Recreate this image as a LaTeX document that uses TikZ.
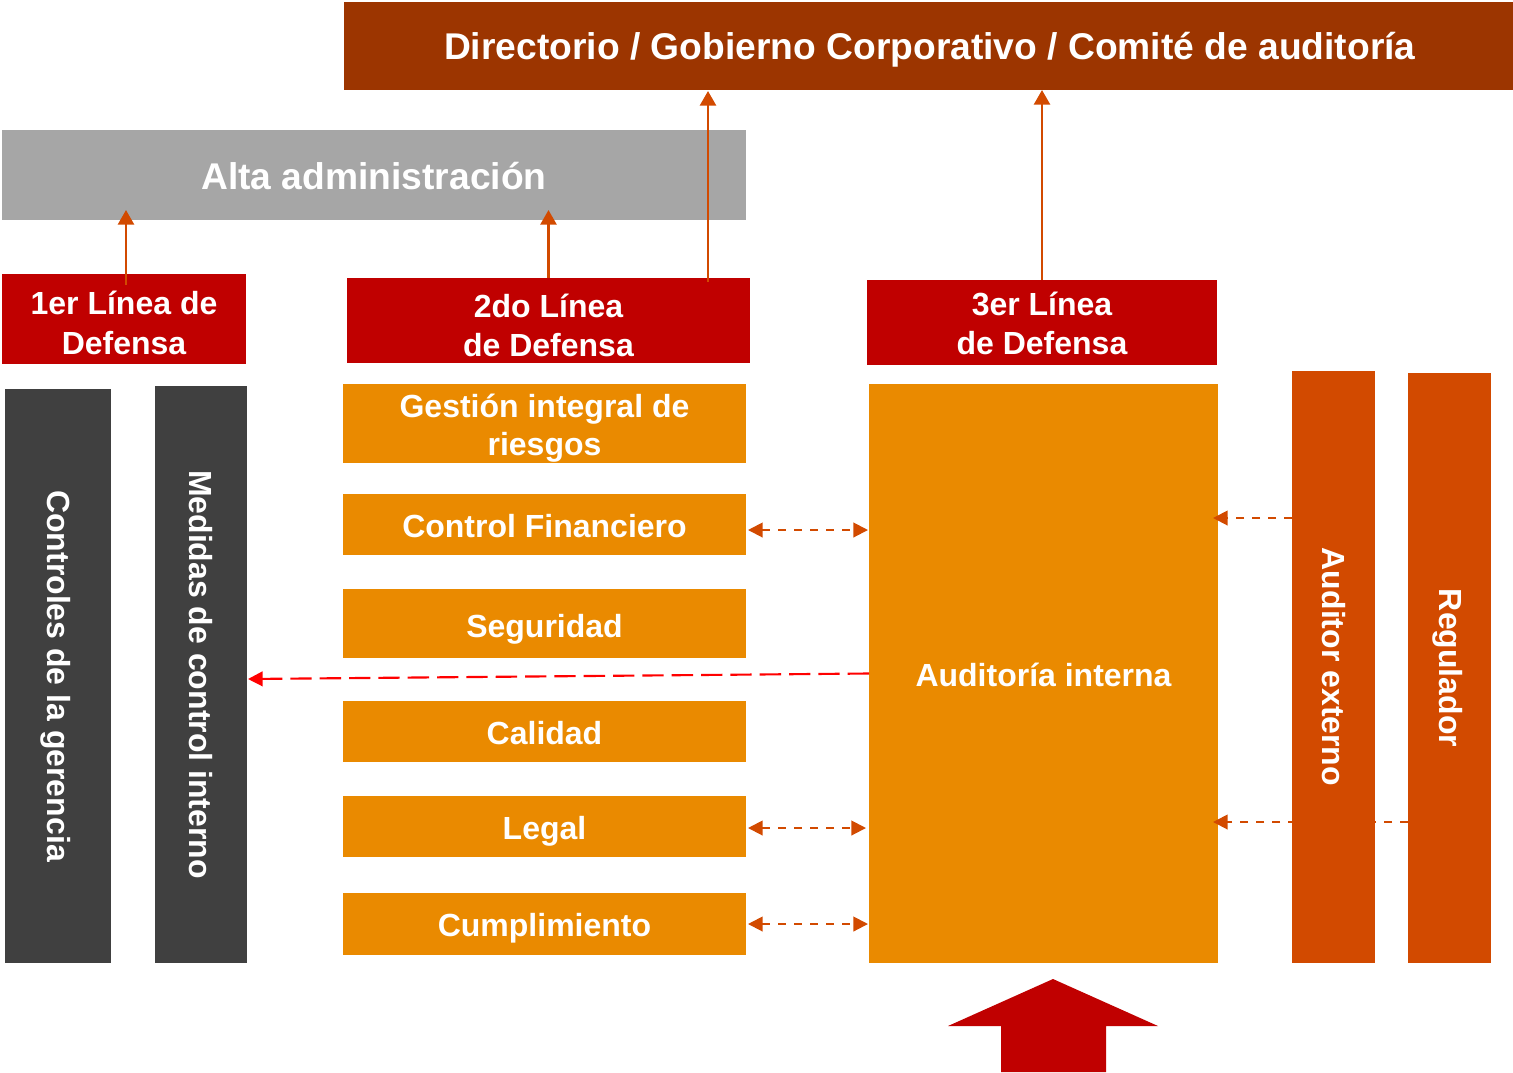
\documentclass[tikz,border=0pt]{standalone}
\usepackage{fontspec}
\setmainfont{Liberation Sans}
\usetikzlibrary{arrows.meta,calc}
\definecolor{cTop}{HTML}{9C3500}
\definecolor{cGray}{HTML}{A6A6A6}
\definecolor{cRed}{HTML}{C00000}
\definecolor{cOrange}{HTML}{EA8A00}
\definecolor{cDark}{HTML}{404040}
\definecolor{cRust}{HTML}{D24A00}
\tikzset{
  wh/.style 2 args={minimum width=#1*0.75pt, minimum height=#2*0.75pt},
  box/.style={draw=none, inner sep=0pt, outer sep=0pt},
  txt/.style={text=white, align=center, inner sep=0pt,
    font=\bfseries\fontsize{24}{29.5}\selectfont},
  bigtxt/.style={txt, font=\bfseries\fontsize{27.9}{33}\selectfont},
  vlbl/.style={rotate=-90, text=white, font=\bfseries\fontsize{24}{29}\selectfont, inner sep=0pt},
  uparr/.style={draw=cRust, line width=2pt, -{Triangle[length=11pt,width=12pt]}},
  dasharr/.style={draw=cRust, line width=1.5pt, dash pattern=on 6pt off 6pt,
    -{Triangle[length=11pt,width=11pt]}},
  dblarr/.style={dasharr, {Triangle[length=11pt,width=11pt]}-{Triangle[length=11pt,width=11pt]}},
  redarr/.style={draw=red, line width=1.6pt, dash pattern=on 16pt off 6pt,
    -{Triangle[length=11pt,width=11pt]}},
}
\begin{document}
\begin{tikzpicture}[x=0.75pt, y=-0.75pt]
\useasboundingbox (0,0) rectangle (1513,1072);
% top row
\node[box, fill=cTop, wh={1169}{88},
  label={[bigtxt,yshift=-3pt,xshift=1pt]center:{Directorio / Gobierno Corporativo / Comité de auditoría}}] (top) at (928.5,46) {};
\node[box, fill=cGray, wh={744}{90},
  label={[bigtxt,yshift=-0.75pt]center:{Alta administración}}] (alta) at (374,175) {};
% lines of defense
\node[box, fill=cRed, wh={244}{90},
  label={[txt,yshift=-3pt]center:{1er Línea de\\Defensa}}] (l1) at (124,319) {};
\node[box, fill=cRed, wh={403}{85},
  label={[txt,yshift=-3.5pt]center:{2do Línea\\de Defensa}}] (l2) at (548.5,320.5) {};
\node[box, fill=cRed, wh={350}{85},
  label={[txt,yshift=-0.75pt]center:{3er Línea\\de Defensa}}] (l3) at (1042,322.5) {};
% left columns
\node[box, fill=cDark, wh={106}{574},
  label={[xshift=-2pt,vlbl]center:Controles de la gerencia}] (ctrl) at (58,676) {};
\node[box, fill=cDark, wh={92}{577},
  label={[vlbl]center:Medidas de control interno}] (med) at (201,674.5) {};
% middle column
\node[box, fill=cOrange, wh={403}{79},
  label={[txt,yshift=-3.5pt,font=\bfseries\fontsize{24}{28.5}\selectfont]center:{Gestión integral de\\riesgos}}] (gest) at (544.5,423.5) {};
\node[box, fill=cOrange, wh={403}{61},
  label={[txt,yshift=-1.5pt]center:{Control Financiero}}] (fin) at (544.5,524.5) {};
\node[box, fill=cOrange, wh={403}{69},
  label={[txt,yshift=-4.5pt]center:{Seguridad}}] (seg) at (544.5,623.5) {};
\node[box, fill=cOrange, wh={403}{61},
  label={[txt,yshift=-1.5pt]center:{Calidad}}] (cal) at (544.5,731.5) {};
\node[box, fill=cOrange, wh={403}{61},
  label={[txt,yshift=-3.75pt]center:{Legal}}] (leg) at (544.5,826.5) {};
\node[box, fill=cOrange, wh={403}{62},
  label={[txt,yshift=-3pt]center:{Cumplimiento}}] (cum) at (544.5,924) {};
% internal audit
\node[box, fill=cOrange, wh={349}{579},
  label={[txt,yshift=-0.75pt]center:{Auditoría interna}}] (aud) at (1043.5,673.5) {};
% right columns
\node[box, fill=cRust, wh={83}{590},
  label={[xshift=-1.5pt,vlbl]center:Regulador}] (reg) at (1449.5,668) {};
\coordinate (yr) at (0,822);
\draw[dasharr] (reg.west |- yr) -- ($(aud.east |- yr)+(-5,0)$);
\node[box, fill=cRust, wh={83}{592},
  label={[vlbl]center:Auditor externo}] (ext) at (1333.5,667) {};
\coordinate (ye) at (0,518);
\draw[dasharr] (ext.west |- ye) -- ($(aud.east |- ye)+(-5,0)$);
% up arrows
\draw[uparr] ($(l1.north)+(2,11)$) -- ($(l1.north |- alta.south)+(2,-10)$);
\draw[uparr] (l2.north) -- ($(l2.north |- alta.south)+(0,-10)$);
\draw[uparr] ($(l2.north)+(159.5,4)$) -- ($(l2.north |- top.south)+(159.5,1)$);
\draw[uparr] (l3.north) -- (l3.north |- top.south);
% dashed double arrows
\draw[dblarr] ($(fin.east)+(2,5.5)$) -- ($(fin.east -| aud.west)+(-1,5.5)$);
\draw[dblarr] ($(leg.east)+(2,1.5)$) -- ($(leg.east -| aud.west)+(-3,1.5)$);
\draw[dblarr] ($(cum.east)+(2,0)$) -- ($(cum.east -| aud.west)+(-1,0)$);
% red dashed
\draw[redarr] (aud.west) -- ($(med.east)+(1,4.5)$);
% big arrow
\fill[cRed] (948,1026) -- (1053,979) -- (1158,1026) -- (1106,1026) -- (1106,1072)
  -- (1001,1072) -- (1001,1026) -- cycle;
\end{tikzpicture}
\end{document}
